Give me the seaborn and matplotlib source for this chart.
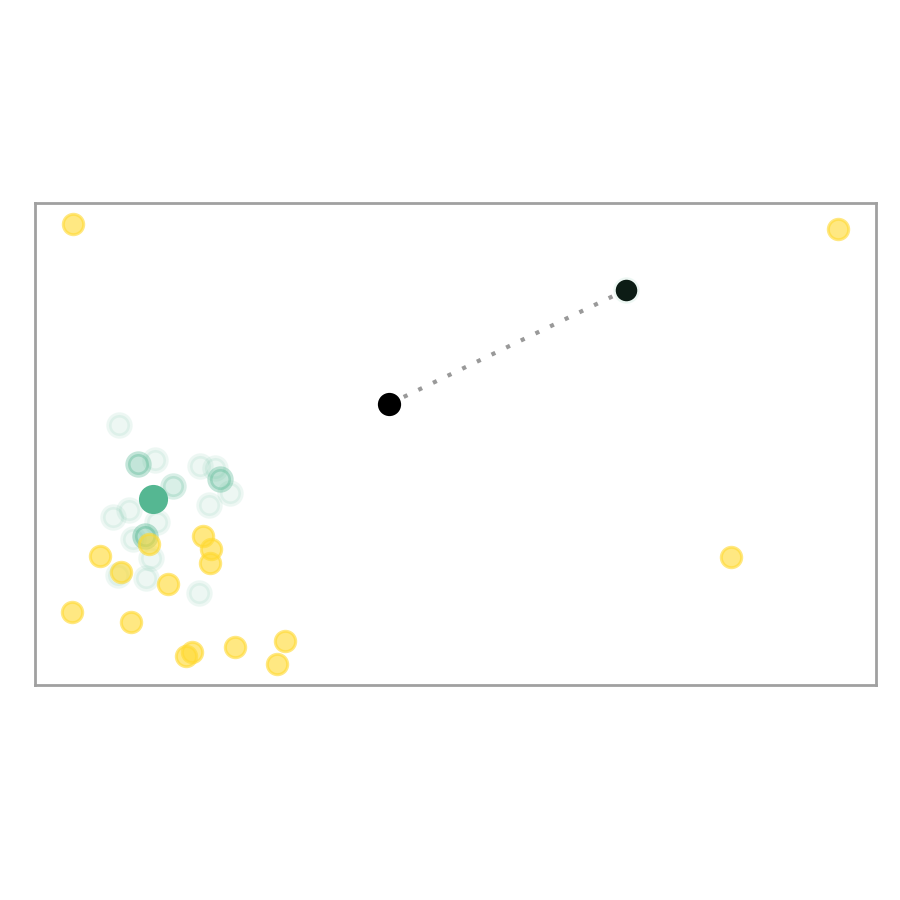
import numpy as np
import pandas as pd
import seaborn as sns
import matplotlib.pyplot as plt

# yellow cluster points
yellow_x = [0.45, 9.55, 8.28, 0.77, 1.02, 1.36, 1.58, 2.00, 2.09, 2.08,
            0.44, 1.14, 1.80, 1.87, 2.38, 2.97, 2.88]
yellow_y = [9.56, 9.46, 2.66, 2.68, 2.34, 2.93, 2.10, 3.09, 2.82, 2.53,
            1.51, 1.31, 0.60, 0.68, 0.79, 0.91, 0.44]

# faint green points
green_x = [1.00, 1.43, 1.96, 2.14, 2.32, 2.07, 1.12, 0.93, 1.45, 1.17,
           1.38, 0.99, 1.32, 1.95, 7.03]
green_y = [5.39, 4.67, 4.54, 4.50, 3.98, 3.73, 3.63, 3.49, 3.38, 3.03,
           2.63, 2.28, 2.22, 1.91, 8.20]

# stronger green points
green_mid_x = [1.22, 1.64, 2.20, 1.31]
green_mid_y = [4.59, 4.13, 4.27, 3.09]
green_mid_alpha = [0.35, 0.22, 0.35, 0.4]

# centroid and the moving point
centroid = (1.40, 3.86)
start_pt = (4.21, 5.83)
end_pt = (7.03, 8.20)

YELLOW = '#ffd92f'
GREEN = '#55b792'

sns.set_style('white')
fig = plt.figure(figsize=(9, 9), dpi=100)
ax = fig.add_axes([35 / 900, 215 / 900, 841 / 900, 482 / 900])

# dotted path
path = pd.DataFrame({'x': [start_pt[0], end_pt[0]], 'y': [start_pt[1], end_pt[1]]})
sns.lineplot(data=path, x='x', y='y', ax=ax, color='#999999', linewidth=3,
             dashes=False, zorder=1, sort=False)
ax.lines[-1].set_dashes((1.0, 2.9))

sns.scatterplot(x=green_x, y=green_y, ax=ax, color=GREEN, s=230,
                alpha=0.1, edgecolor=GREEN, linewidth=3.8, zorder=2)
for gx, gy, ga in zip(green_mid_x, green_mid_y, green_mid_alpha):
    sns.scatterplot(x=[gx], y=[gy], ax=ax, color=GREEN, s=230,
                    alpha=ga, edgecolor=GREEN, linewidth=3.8, zorder=2)

sns.scatterplot(x=yellow_x, y=yellow_y, ax=ax, color=YELLOW, s=215,
                alpha=0.6, edgecolor=YELLOW, linewidth=2.2, zorder=3)

sns.scatterplot(x=[centroid[0]], y=[centroid[1]], ax=ax, color=GREEN,
                s=440, linewidth=0, zorder=4)
sns.scatterplot(x=[start_pt[0]], y=[start_pt[1]], ax=ax, color='black',
                s=280, linewidth=0, zorder=4)
sns.scatterplot(x=[end_pt[0]], y=[end_pt[1]], ax=ax, color='#0c1c15',
                s=240, linewidth=0, zorder=4)

ax.set_xlim(0, 10)
ax.set_ylim(0, 10)
ax.set_xticks([])
ax.set_yticks([])
ax.set_xlabel('')
ax.set_ylabel('')
for sp in ax.spines.values():
    sp.set_color('#a0a0a0')
    sp.set_linewidth(2)

fig.savefig('out.png', dpi=100)
